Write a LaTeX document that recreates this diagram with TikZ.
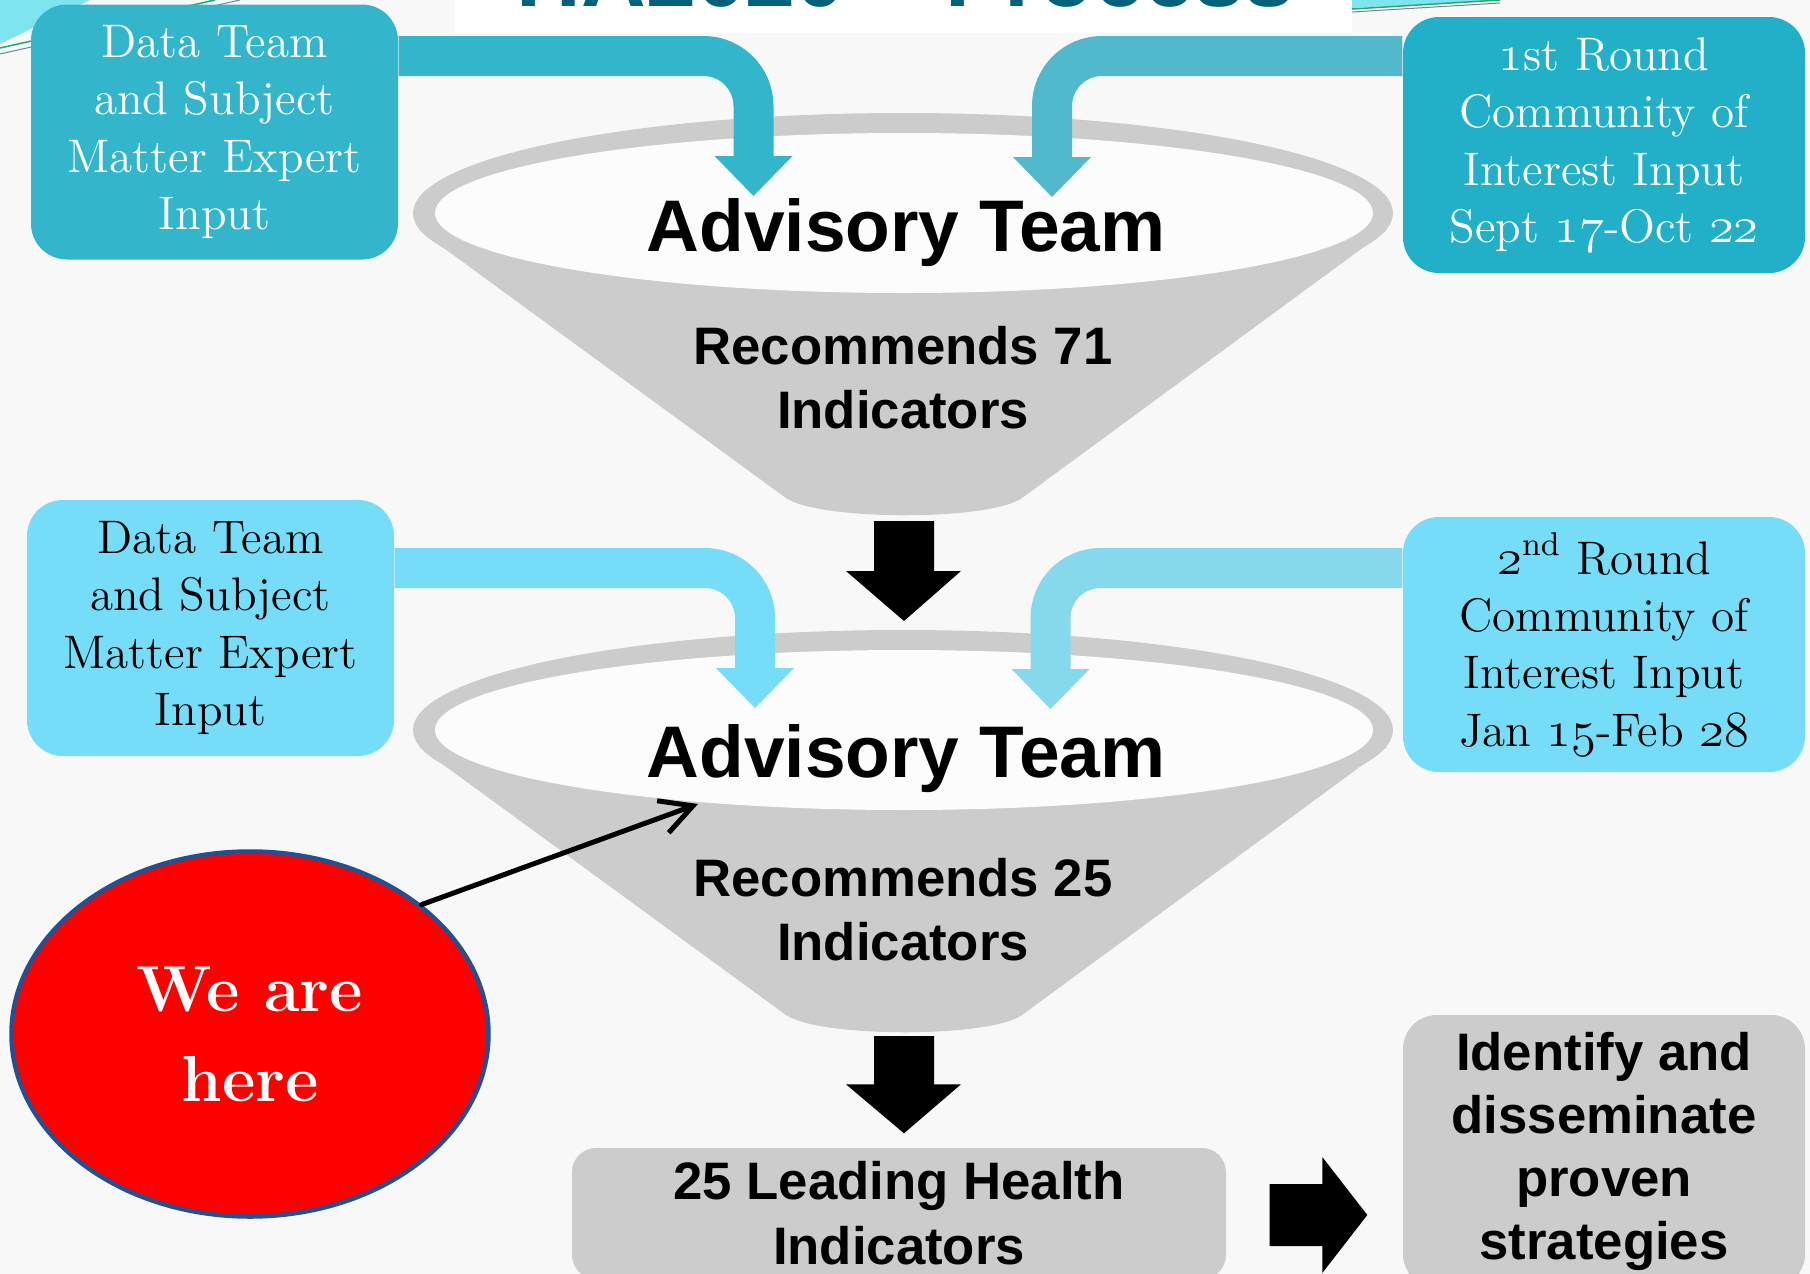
\documentclass[tikz,border=0pt]{standalone}
\usepackage{fontspec}
\newfontfamily\arialfont{Liberation Sans}
\usetikzlibrary{calc,arrows.meta,shapes.geometric}
\definecolor{bg}{RGB}{248,248,248}
\definecolor{tealA}{RGB}{51,182,204}
\definecolor{tealB}{RGB}{34,176,201}
\definecolor{tealBarrow}{RGB}{82,184,203}
\definecolor{cyanC}{RGB}{118,221,248}
\definecolor{cyanDarrow}{RGB}{134,216,236}
\definecolor{funnelgray}{RGB}{204,204,204}
\definecolor{boxgray}{RGB}{204,204,204}
\definecolor{titleblue}{RGB}{3,98,122}
\definecolor{herered}{RGB}{255,0,0}
\definecolor{hereblue}{RGB}{35,80,145}
\definecolor{decocyan}{RGB}{125,228,240}
\definecolor{decogreen}{RGB}{30,170,120}
\newcommand\osn[1]{{\usefont{OML}{lmm}{m}{it}#1}}
\begin{document}
\begin{tikzpicture}[x=0.1mm, y=-0.1mm,
  funnel/.pic={
    \fill[funnelgray] (-484,17) -- (-117,285) .. controls (-83,308) and (87,308) .. (119,285) -- (484,17) -- cycle;
    \fill[funnelgray] (0,0) ellipse[x radius=49mm, y radius=10mm];
    \fill[white!60!bg] (1,0) ellipse[x radius=46.9mm, y radius=8mm];
    \coordinate (-top) at (0,-100);
    \coordinate (-bot) at (0,302);
  },
  inbox/.style={rounded corners=3.6mm, inner sep=0pt, align=center,
    font={\fontsize{13.4pt}{16.3pt}\selectfont}},
  band/.style={draw=#1, line width=4mm, rounded corners=5mm},
  advis/.style={inner sep=0pt, font={\fontsize{20.8pt}{25pt}\selectfont\arialfont\bfseries}},
  recs/.style={inner sep=0pt, align=center, font={\fontsize{15pt}{18.2pt}\selectfont\arialfont\bfseries}},
  graybox/.style={fill=boxgray, inner sep=0pt, align=center},
  titlestyle/.style={inner sep=0pt, text=titleblue, font={\fontsize{25.5pt}{30pt}\selectfont\arialfont\bfseries}}
]
\useasboundingbox (0,0) rectangle (1810,1274);
\clip (0,0) rectangle (1810,1274);
\fill[bg] (0,0) rectangle (1810,1274);
% slide decorations
\fill[decocyan] (0,0) -- (90,0) -- (0,44) -- cycle;
\draw[decogreen, line width=0.15mm] (0,48) -- (215,0);
\draw[hereblue!70, line width=0.1mm] (0,54) -- (240,0);
\fill[decocyan] (1352,0) -- (1500,0) -- (1352,8) -- cycle;
\draw[decogreen, line width=0.15mm] (1352,9) -- (1500,0);
\draw[gray, line width=0.1mm] (1352,12) -- (1500,3);
\fill[white] (455,0) rectangle (1352,33);
\node[titlestyle, anchor=base] (title) at (905.5,6) {HA2020 – Process};

% funnels
\pic (f1) at (903,213) {funnel};
\pic (f2) at (903,730) {funnel};

% input boxes
\node[inbox, fill=tealA, text=white, minimum width=36.7mm, minimum height=25.5mm] (tl) at (214.5,132)
  {Data Team\\and Subject\\Matter Expert\\Input};
\node[inbox, fill=tealB, text=white, minimum width=40.2mm, minimum height=25.6mm] (tr) at (1604,145)
  {\osn{1}st Round\\Community of\\Interest Input\\Sept \osn{17}-Oct \osn{22}};
\node[inbox, fill=cyanC, text=black, minimum width=36.7mm, minimum height=25.6mm] (bl) at (210.5,628)
  {Data Team\\and Subject\\Matter Expert\\Input};
\node[inbox, fill=cyanC, text=black, minimum width=40.2mm, minimum height=25.5mm] (br) at (1604,644.5)
  {\osn{2}\textsuperscript{nd} Round\\Community of\\Interest Input\\Jan \osn{15}-Feb \osn{28}};

% bent input arrows
\coordinate (yA) at (0,56);
\coordinate (yC) at (0,568);
\coordinate (hA) at (753.5,156);
\coordinate (hB) at (1052,157);
\coordinate (hC) at (755,668);
\coordinate (hD) at (1050.5,669);
\draw[band=tealA] (tl.east |- yA) -| (hA);
\fill[tealA] (hA) ++(-39,0) -- ++(78,0) -- ++(-39,40) -- cycle;
\draw[band=tealBarrow] (tr.west |- yA) -| (hB);
\fill[tealBarrow] (hB) ++(-39,0) -- ++(78,0) -- ++(-39,40) -- cycle;
\draw[band=cyanC] (bl.east |- yC) -| (hC);
\fill[cyanC] (hC) ++(-39,0) -- ++(78,0) -- ++(-39,40) -- cycle;
\draw[band=cyanDarrow] (br.west |- yC) -| (hD);
\fill[cyanDarrow] (hD) ++(-39,0) -- ++(78,0) -- ++(-39,40) -- cycle;

% funnel texts
\node[advis, anchor=base] (adv1) at (906,251) {Advisory Team};
\node[recs] (rec1) at (903,377.5) {Recommends 71\\Indicators};
\node[advis, anchor=base] (adv2) at (906,777) {Advisory Team};
\node[recs] (rec2) at (903,909.5) {Recommends 25\\Indicators};

% bottom boxes
\node[graybox, rounded corners=2.4mm, minimum width=65.4mm, minimum height=13.1mm,
  font={\fontsize{15pt}{18.5pt}\selectfont\arialfont\bfseries}] (lhi) at (899,1213.5)
  {25 Leading Health\\Indicators};
\node[graybox, rounded corners=3.4mm, minimum width=40.2mm, minimum height=27.3mm,
  font={\fontsize{15pt}{17.9pt}\selectfont\arialfont\bfseries}] (idbox) at (1604,1151.5)
  {Identify and\\disseminate\\proven\\strategies};

% black block arrows
\path (f1-bot) ++(1,6) coordinate (da1s);
\path (f2-top) ++(1,-9) coordinate (da1e);
\fill[black] ($(da1s)+(-30,0)$) -- ($(da1s)+(30,0)$) -- ($(da1e)+(30,-50)$) -- ($(da1e)+(57,-50)$)
  -- (da1e) -- ($(da1e)+(-58,-50)$) -- ($(da1e)+(-30,-50)$) -- cycle;
\path (f2-bot) ++(1,4) coordinate (da2s);
\path (lhi.north) ++(5,-14) coordinate (da2e);
\fill[black] ($(da2s)+(-30,0)$) -- ($(da2s)+(30,0)$) -- ($(da2e)+(30,-49)$) -- ($(da2e)+(57,-49)$)
  -- (da2e) -- ($(da2e)+(-58,-49)$) -- ($(da2e)+(-30,-49)$) -- cycle;
\path (lhi.east) ++(43,1.5) coordinate (ra1);
\path (idbox.west |- ra1) ++(-35,0) coordinate (ra2);
\fill[black] ($(ra1)+(0,-31)$) -- ($(ra2)+(-45,-31)$) -- ($(ra2)+(-45,-58)$) -- (ra2)
  -- ($(ra2)+(-45,58)$) -- ($(ra2)+(-45,31)$) -- ($(ra1)+(0,31)$) -- cycle;

% we are here
\node[ellipse, draw=hereblue, line width=0.45mm, fill=herered, text=white,
  minimum width=47.7mm, minimum height=36.5mm, inner sep=0pt, align=center,
  font={\fontsize{18.5pt}{25.6pt}\selectfont\bfseries}] (we) at (250,1034) {We are\\here};
\coordinate (ptr) at (698,804);
\draw[line width=0.5mm, line cap=round, -{Straight Barb[length=3.2mm,width=3.4mm]}] (we.37) -- (ptr);
\end{tikzpicture}
\end{document}
